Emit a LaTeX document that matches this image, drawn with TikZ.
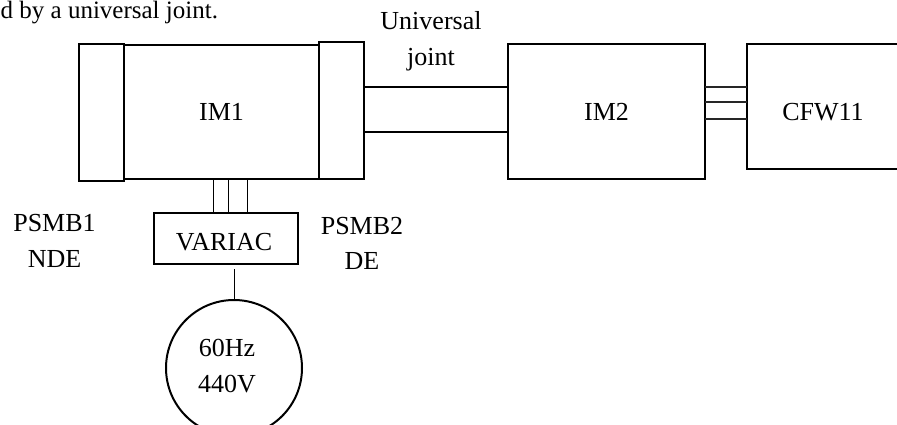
\documentclass[tikz,border=0pt]{standalone}
\usepackage{fontspec}
\setmainfont{Liberation Serif}
\begin{document}
\begin{tikzpicture}[x=1pt,y=-1pt]
\tikzset{
 thickbox/.style={draw, line width=2pt, inner sep=0, outer sep=0, font=\fontsize{26}{35.5}\selectfont},
 thinbox/.style={draw, line width=1.1pt, inner sep=0, outer sep=0, font=\fontsize{26}{35.5}\selectfont},
 wire/.style={line width=1pt},
 lbl/.style={align=center, inner sep=0, font=\fontsize{26}{35.5}\selectfont},
}
\useasboundingbox (0,0) rectangle (897,425);
\clip (0,0) rectangle (897,425);

\node[thickbox, minimum width=45, minimum height=137] (psmb1) at (101.5,112.5) {};
\node[thickbox, minimum width=195, minimum height=134] (im1) at (221.5,112) {IM1};
\node[thickbox, minimum width=45, minimum height=137] (psmb2) at (341.5,110.5) {};
\node[thickbox, minimum width=144, minimum height=45] (shaft) at (436,109.5) {};
\node[thickbox, minimum width=197, minimum height=135] (im2) at (606.5,111.5) {IM2};
\node[thickbox, minimum width=152, minimum height=125] (cfw) at (823,106.5) {};
\node[lbl] (cfwtxt) at (823,112.5) {CFW11};

\foreach \y in {87,102,119}
  \draw[wire, black!85, line width=1.2pt] (im2.east |- 0,\y) -- (cfw.west |- 0,\y);

\node[thinbox, minimum width=144, minimum height=51] (var) at (226,238.5) {};
\node[lbl] (vartxt) at (224,242) {VARIAC};
\foreach \x in {213,228,247}
  \draw[wire] (\x,0 |- im1.south) -- (\x,0 |- var.north);

\node[draw, circle, line width=2pt, minimum size=136, inner sep=0] (src) at (234,368) {};
\draw[wire] ([yshift=-5pt]var.south -| src.north) -- (src.north);
\node[lbl] (srctxt) at (227,366) {60Hz\\440V};

\node[lbl] (l1) at (54.5,241) {PSMB1\\NDE};
\node[lbl] (l2) at (362,243.5) {PSMB2\\DE};
\node[lbl] (uj) at (431,41) {Universal\\joint};
\node[anchor=base west, inner sep=0, font=\fontsize{25}{30}\selectfont] (cap) at (0.5,18.5) {d by a universal joint.};
\end{tikzpicture}
\end{document}
